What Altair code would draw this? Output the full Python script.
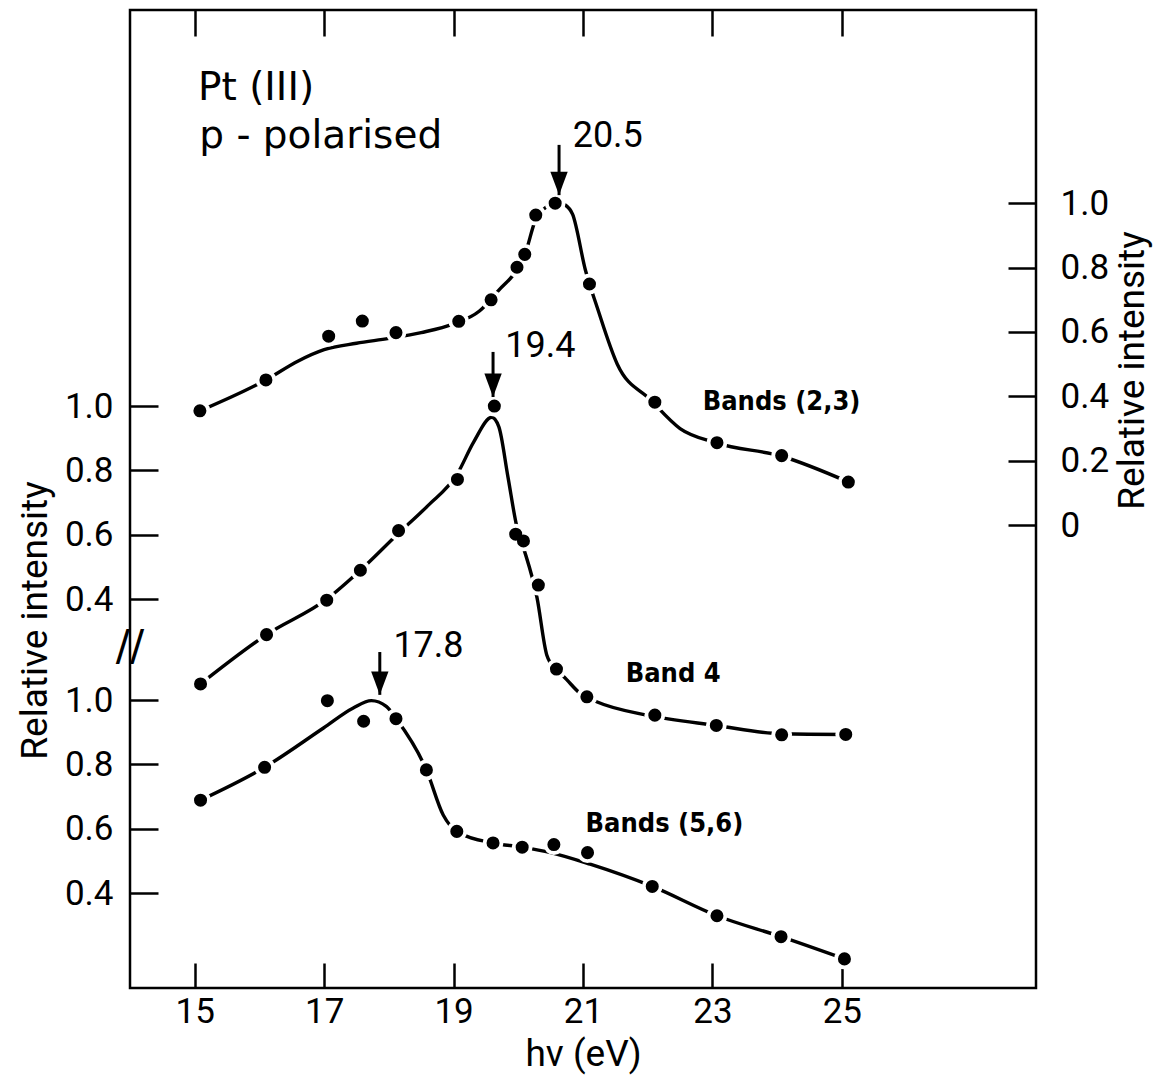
import altair as alt
import pandas as pd

# ---------------- data ----------------
# measured points: photon energy hv (eV) and relative intensity (each curve on its own scale)
b23_x = [15.08, 16.10, 17.07, 17.59, 18.11, 19.08, 19.58, 19.98, 20.10, 20.27, 20.57, 21.10, 22.11, 23.07, 24.07, 25.10]
b23_y = [0.355, 0.451, 0.587, 0.634, 0.598, 0.633, 0.700, 0.801, 0.841, 0.963, 1.000, 0.749, 0.382, 0.256, 0.216, 0.134]
b4_x = [15.09, 16.11, 17.04, 17.56, 18.15, 19.06, 19.63, 19.96, 20.08, 20.31, 20.59, 21.06, 22.11, 23.06, 24.07, 25.06]
b4_y = [0.137, 0.290, 0.397, 0.490, 0.613, 0.772, 1.000, 0.602, 0.581, 0.444, 0.183, 0.097, 0.040, 0.008, -0.021, -0.020]
b56_x = [15.09, 16.08, 17.05, 17.61, 18.11, 18.58, 19.05, 19.61, 20.06, 20.55, 21.07, 22.07, 23.07, 24.06, 25.04]
b56_y = [0.689, 0.791, 0.998, 0.934, 0.942, 0.783, 0.592, 0.556, 0.543, 0.551, 0.526, 0.421, 0.330, 0.265, 0.196]

# hand-drawn fitted curves
c23_x = [15.08, 16.10, 16.6, 17.0, 17.5, 18.0, 18.5, 19.0, 19.4, 19.7, 20.0, 20.1, 20.27, 20.45, 20.6, 20.72,
         20.84, 21.04, 21.22, 21.53, 22.04, 22.5, 23.07, 24.07, 25.10]
c23_y = [0.355, 0.451, 0.51, 0.545, 0.565, 0.58, 0.598, 0.625, 0.665, 0.73, 0.80, 0.84, 0.95, 0.99, 1.003, 0.995,
         0.965, 0.79, 0.676, 0.50, 0.39, 0.30, 0.255, 0.214, 0.134]
c4_x = [15.09, 16.11, 17.04, 17.56, 18.15, 18.6, 19.06, 19.31, 19.59, 19.70, 19.84, 19.98, 20.08, 20.29, 20.44,
        20.59, 20.70, 20.96, 21.22, 21.99, 23.06, 24.07, 25.06]
c4_y = [0.137, 0.290, 0.40, 0.49, 0.605, 0.69, 0.79, 0.888, 0.965, 0.935, 0.78, 0.623, 0.56, 0.404, 0.227,
        0.18, 0.16, 0.107, 0.081, 0.040, 0.008, -0.018, -0.020]
c56_x = [15.09, 16.08, 16.99, 17.45, 17.73, 17.96, 18.12, 18.58, 18.84, 19.05, 19.61, 20.06, 20.5, 21.11,
         22.07, 23.07, 24.06, 25.04]
c56_y = [0.689, 0.791, 0.913, 0.975, 0.998, 0.98, 0.94, 0.783, 0.643, 0.592, 0.556, 0.543, 0.526, 0.49,
         0.421, 0.330, 0.265, 0.196]

series_names = ["Bands (2,3)", "Band 4", "Bands (5,6)"]
# vertical offset of each curve's intensity scale in the stacked plot
offsets = {"Bands (2,3)": 1.543, "Band 4": 0.913, "Bands (5,6)": 0.0}

# axis tick labels
x_ticks = [15, 17, 19, 21, 23, 25]
left_upper_ticks = [0.4, 0.6, 0.8, 1.0]   # Band 4 scale
left_lower_ticks = [0.4, 0.6, 0.8, 1.0]   # Bands (5,6) scale
right_ticks = [0.0, 0.2, 0.4, 0.6, 0.8, 1.0]  # Bands (2,3) scale

# peak annotations
peak_labels = ["20.5", "19.4", "17.8"]
peak_arrow_x = [20.63, 19.61, 17.86]
peak_arrow_top = [2.724, 2.081, 1.149]
peak_arrow_tip = [2.568, 1.941, 1.016]
peak_label_x = [20.84, 19.80, 18.07]
peak_label_y = [2.717, 2.065, 1.134]

title_lines = ["Pt (III)", "p - polarised"]
title_x = [15.05, 15.07]
title_y = [2.863, 2.714]

band_label_x = [22.85, 21.66, 21.04]
band_label_y = [1.901, 1.056, 0.590]

# ---------------- tables ----------------
def frame(names, xs_list, ys_list):
    parts = []
    for n, xs, ys in zip(names, xs_list, ys_list):
        parts.append(pd.DataFrame({"hv": xs, "rel": ys, "series": n}))
    return pd.concat(parts, ignore_index=True)

pts = frame(series_names, [b23_x, b4_x, b56_x], [b23_y, b4_y, b56_y])
crv = frame(series_names, [c23_x, c4_x, c56_x], [c23_y, c4_y, c56_y])

pos_expr = ("datum.rel + (datum.series == 'Bands (2,3)' ? %g : datum.series == 'Band 4' ? %g : %g)"
            % (offsets["Bands (2,3)"], offsets["Band 4"], offsets["Bands (5,6)"]))

left_vals = [v + offsets["Band 4"] for v in left_upper_ticks] + [v + offsets["Bands (5,6)"] for v in left_lower_ticks]
right_vals = [v + offsets["Bands (2,3)"] for v in right_ticks]

left_expr = ("datum.value > 1.2 ? format(datum.value - %g, '.1f') : format(datum.value - %g, '.1f')"
             % (offsets["Band 4"], offsets["Bands (5,6)"]))
right_expr = ("abs(datum.value - %g) < 0.01 ? '0' : format(datum.value - %g, '.1f')"
              % (offsets["Bands (2,3)"], offsets["Bands (2,3)"]))

arrows = pd.DataFrame({"hv": peak_arrow_x, "top": peak_arrow_top, "tip": peak_arrow_tip})
peak_txt = pd.DataFrame({"hv": peak_label_x, "pos": peak_label_y, "text": peak_labels})
title_txt = pd.DataFrame({"hv": title_x, "pos": title_y, "text": title_lines})
band_txt = pd.DataFrame({"hv": band_label_x, "pos": band_label_y, "text": series_names})
brk = pd.DataFrame({"hv": [14.0], "pos": [1.165], "text": ["//"]})

# ---------------- chart ----------------
FONT = "Roboto"
xs = alt.Scale(domain=[14, 28], nice=False, zero=False)
ys = alt.Scale(domain=[0.1056, 3.1429], nice=False, zero=False)
X_none = alt.X("hv:Q", scale=xs, axis=None)

lines = alt.Chart(crv).mark_line(color="black", strokeWidth=3.4, interpolate="monotone").transform_calculate(
    pos=pos_expr
).encode(
    x=alt.X("hv:Q", scale=xs, axis=alt.Axis(
        values=x_ticks, orient="bottom", offset=-25, tickSize=25, tickWidth=2.5, tickColor="black",
        domain=False, labelFont=FONT, labelFontSize=35, labelColor="black", labelPadding=6,
        labelFlush=False, title="hν  (eV)", titleFont=FONT, titleFontSize=37, titleFontWeight="normal",
        titleColor="black", titlePadding=7)),
    y=alt.Y("pos:Q", scale=ys, axis=alt.Axis(
        values=left_vals, labelExpr=left_expr, orient="left", offset=-28, tickSize=28, tickWidth=2.5,
        tickColor="black", domain=False, labelFont=FONT, labelFontSize=35, labelColor="black",
        labelPadding=17, labelFlush=False, labelOverlap=False, title="Relative intensity",
        titleFont=FONT, titleFontSize=37, titleFontWeight="normal", titleColor="black", titlePadding=10,
        titleY=610)),
    detail="series:N",
)

halo = alt.Chart(pts).mark_circle(color="white", opacity=1, size=430).transform_calculate(
    pos=pos_expr
).encode(
    x=alt.X("hv:Q", scale=xs, axis=alt.Axis(
        values=x_ticks, orient="top", offset=-26, tickSize=26, tickWidth=2.5, tickColor="black",
        domain=False, labels=False, title=None)),
    y=alt.Y("pos:Q", scale=ys, axis=alt.Axis(
        values=right_vals, labelExpr=right_expr, orient="right", offset=-28, tickSize=28, tickWidth=2.5,
        tickColor="black", domain=False, labelFont=FONT, labelFontSize=35, labelColor="black",
        labelPadding=24, labelFlush=False, labelOverlap=False, title="Relative intensity",
        titleFont=FONT, titleFontSize=37, titleFontWeight="normal", titleColor="black",
        titleAngle=270, titleBaseline="top", titlePadding=6, titleY=360)),
)

dots = alt.Chart(pts).mark_circle(color="black", opacity=1, size=170).transform_calculate(
    pos=pos_expr
).encode(x=X_none, y=alt.Y("pos:Q", scale=ys, axis=None))

arrow_shaft = alt.Chart(arrows).mark_rule(color="black", strokeWidth=3).encode(
    x=X_none, y=alt.Y("top:Q", scale=ys, axis=None), y2="tip:Q")
arrow_head = alt.Chart(arrows).mark_point(
    shape="M-0.37,-1L0.37,-1L0,0Z", filled=True, color="black", opacity=1, size=2200
).encode(x=X_none, y=alt.Y("tip:Q", scale=ys, axis=None))

peak_text = alt.Chart(peak_txt).mark_text(
    font=FONT, fontSize=36, align="left", baseline="alphabetic", color="black"
).encode(x=X_none, y=alt.Y("pos:Q", scale=ys, axis=None), text="text:N")

title_text = alt.Chart(title_txt).mark_text(
    font="DejaVu Sans", fontSize=39, align="left", baseline="alphabetic", color="black"
).encode(x=X_none, y=alt.Y("pos:Q", scale=ys, axis=None), text="text:N")

band_text = alt.Chart(band_txt).mark_text(
    font="Liberation Sans Narrow, DejaVu Sans Condensed, Roboto Condensed, Roboto", fontSize=27,
    fontWeight="bold", align="left", baseline="alphabetic", color="black"
).encode(x=X_none, y=alt.Y("pos:Q", scale=ys, axis=None), text="text:N")

break_mark = alt.Chart(brk).mark_text(
    font="DejaVu Sans", fontSize=42, align="center", baseline="middle", color="black"
).encode(x=X_none, y=alt.Y("pos:Q", scale=ys, axis=None), text="text:N")

chart = alt.layer(
    lines, halo, dots, arrow_shaft, arrow_head, peak_text, title_text, band_text, break_mark
).resolve_scale(x="shared", y="shared").resolve_axis(x="independent", y="independent").properties(
    width=906, height=978,
    autosize=alt.AutoSizeParams(type="none"),
    padding={"left": 130, "top": 10, "right": 120, "bottom": 91},
    background="white",
).configure_view(stroke="black", strokeWidth=2.5).configure_axis(grid=False)

chart.save("out.html", embed_options={"renderer": "svg", "actions": False})
